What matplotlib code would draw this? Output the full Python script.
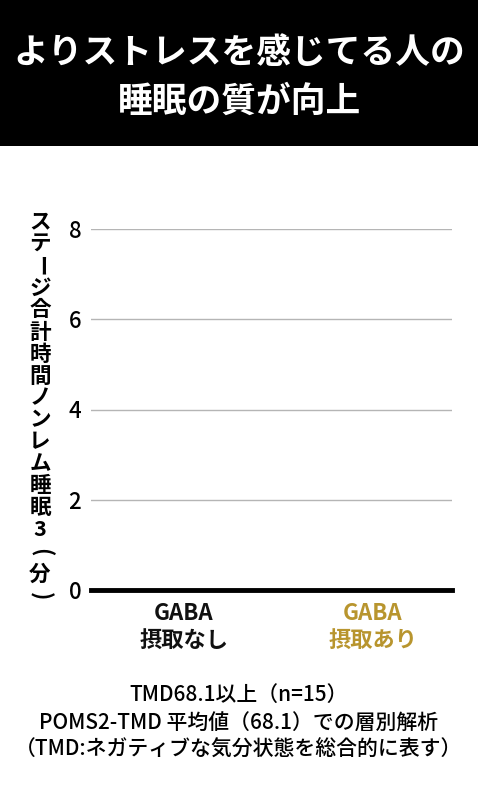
"""GABA chart - stage 3 non-REM sleep time (bars at zero)"""

import matplotlib.pyplot as plt
from matplotlib.patches import Rectangle

plt.rcParams['font.family'] = ['Noto Sans CJK JP', 'DejaVu Sans']

# Data
categories = ["GABA\n摂取なし", "GABA\n摂取あり"]
values = [0, 0]
cat_colors = ["#111111", "#b8952e"]
yticks = [0, 2, 4, 6, 8]

title_lines = ["よりストレスを感じてる人の", "睡眠の質が向上"]
ylabel_chars = ["ス", "テ", "ー", "ジ", "合", "計", "時", "間", "ノ", "ン",
                "レ", "ム", "睡", "眠", "3", "(", "分", ")"]
rotated_chars = {"ー", "(", ")"}
notes = ["TMD68.1以上（n=15）",
         "POMS2-TMD 平均値（68.1）での層別解析",
         "（TMD:ネガティブな気分状態を総合的に表す）"]

W, H = 478, 788
fig = plt.figure(figsize=(W / 100, H / 100), dpi=100)
fig.patch.set_facecolor("white")

# Black title band
fig.patches.append(Rectangle((0, 1 - 146 / H), 1, 146 / H, transform=fig.transFigure,
                             facecolor="black", edgecolor="none", zorder=0))
fig.text(0.5, 1 - 52 / H, title_lines[0], color="white", fontsize=25,
         fontweight="bold", ha="center", va="center")
fig.text(0.5, 1 - 101 / H, title_lines[1], color="white", fontsize=25,
         fontweight="bold", ha="center", va="center")

# Axes
ax = fig.add_axes([91 / W, 198 / H, 361 / W, 361 / H])
x = list(range(len(categories)))
ax.bar(x, values, width=0.5, color=cat_colors)
ax.set_ylim(0, 8)
ax.set_xlim(-0.49, 1.42)
ax.set_yticks(yticks)
ax.set_yticklabels([str(t) for t in yticks], fontsize=16, fontweight="medium")
ax.tick_params(axis="y", length=0, pad=7)
ax.grid(axis="y", color="#b5b5b5", linewidth=1)
ax.set_axisbelow(True)
for side in ["left", "right", "top"]:
    ax.spines[side].set_visible(False)
ax.spines["bottom"].set_linewidth(3.5)
ax.spines["bottom"].set_color("black")
ax.spines["bottom"].set_zorder(5)

ax.set_xticks(x)
ax.set_xticklabels(categories, fontsize=16, fontweight="bold", linespacing=1.25)
ax.tick_params(axis="x", length=0, pad=9)
for lbl, c in zip(ax.get_xticklabels(), cat_colors):
    lbl.set_color(c)

# Vertical y-axis label, one character per step (long mark and brackets turned)
top_px, step_px = 222, 22
for i, ch in enumerate(ylabel_chars):
    rot = -90 if ch in rotated_chars else 0
    size = 16 if ch in ("(", ")") else 15.5
    fig.text(40 / W, 1 - (top_px + i * step_px) / H, ch, fontsize=size,
             fontweight="bold", ha="center", va="center", rotation=rot)

# Notes under the chart
for i, line in enumerate(notes):
    fig.text(0.5, 1 - (695 + i * 27.5) / H, line, fontsize=15,
             fontweight="medium", ha="center", va="center")

plt.savefig("out.png", dpi=100)
plt.close()
